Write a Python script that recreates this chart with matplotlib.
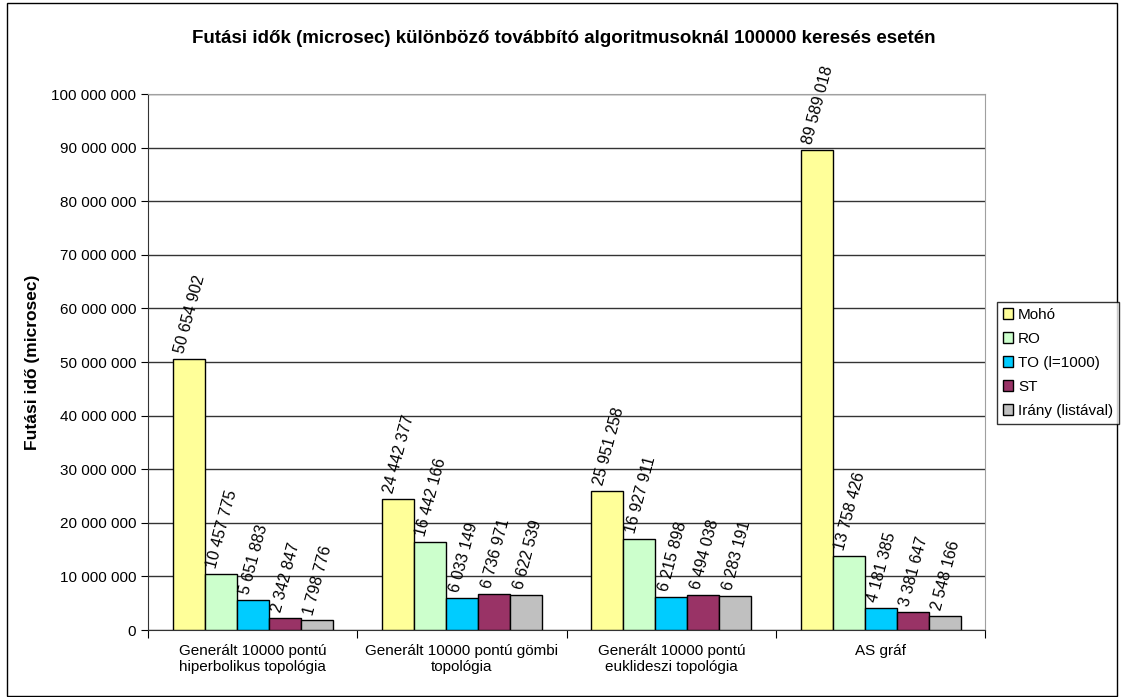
import numpy as np
import matplotlib.pyplot as plt
from matplotlib.patches import Patch, Rectangle
from matplotlib.ticker import FuncFormatter, FixedLocator


# data
categories = ["Generált 10000 pontú\nhiperbolikus topológia",
              "Generált 10000 pontú gömbi\ntopológia",
              "Generált 10000 pontú\neuklideszi topológia",
              "AS gráf"]
series_names = ["Mohó", "RO", "TO (l=1000)", "ST", "Irány (listával)"]
moho = [50654902, 24442377, 25951258, 89589018]
ro = [10457775, 16442166, 16927911, 13758426]
to = [5651883, 6033149, 6215898, 4181385]
st = [2342847, 6736971, 6494038, 3381647]
irany = [1798776, 6622539, 6283191, 2548166]
colors = ["#FFFF99", "#CCFFCC", "#00CCFF", "#993366", "#C0C0C0"]

plt.rcParams['font.family'] = ['Liberation Sans', 'DejaVu Sans']


def fmt(v, pos=None):
    return f"{int(v):,}".replace(",", " ")


def main():
    fig = plt.figure(figsize=(11.21, 6.97), dpi=100)
    fig.patches.append(Rectangle((0.006, 0.002), 0.99, 0.994, transform=fig.transFigure,
                                 fill=False, edgecolor="black", linewidth=1))
    ax = fig.add_axes([0.132, 0.096, 0.747, 0.769])

    all_series = [moho, ro, to, st, irany]
    x = np.arange(len(categories))
    width = 0.153
    for i, vals in enumerate(all_series):
        pos = x - 2 * width + i * width
        ax.bar(pos, vals, width, color=colors[i], edgecolor="black", linewidth=1,
               zorder=3, label=series_names[i])
        for p, v in zip(pos, vals):
            ax.annotate(fmt(v), (p, v), xytext=(1, 3), textcoords="offset points",
                        rotation=75, ha="center", va="bottom", fontsize=11.5, zorder=4)

    ax.set_xlim(-0.5, len(categories) - 0.5)
    ax.set_ylim(0, 100000000)
    ax.yaxis.set_major_locator(FixedLocator(np.arange(0, 100000001, 10000000)))
    ax.yaxis.set_major_formatter(FuncFormatter(fmt))
    ax.grid(axis="y", color="#333333", linewidth=1, zorder=0)
    ax.tick_params(axis="y", labelsize=11, length=5, direction="out")

    ax.set_xticks(np.arange(-0.5, len(categories)), minor=False)
    ax.set_xticklabels([])
    ax.set_xticks(x, minor=True)
    ax.set_xticklabels(categories, minor=True, fontsize=11)
    ax.tick_params(axis="x", which="major", length=6, direction="out")
    ax.tick_params(axis="x", which="minor", length=0, pad=10)

    for side in ["top", "right"]:
        ax.spines[side].set_color("#A0A0A0")
    for side in ["left", "bottom"]:
        ax.spines[side].set_color("#333333")

    ax.set_ylabel("Futási idő (microsec)", fontsize=12.5, fontweight="bold", labelpad=8)
    fig.text(0.503, 0.945, "Futási idők (microsec) különböző továbbító algoritmusoknál 100000 keresés esetén",
             ha="center", va="center", fontsize=13.5, fontweight="bold")

    handles = [Patch(facecolor=c, edgecolor="black", label=n) for c, n in zip(colors, series_names)]
    fig.legend(handles=handles, loc="upper left", bbox_to_anchor=(0.889, 0.567),
               fontsize=11, frameon=True, fancybox=False, edgecolor="black",
               handlelength=0.7, handleheight=0.7, handletextpad=0.3,
               labelspacing=0.65, borderpad=0.4, borderaxespad=0)

    fig.savefig("out.png", dpi=100)


if __name__ == '__main__':
    main()
